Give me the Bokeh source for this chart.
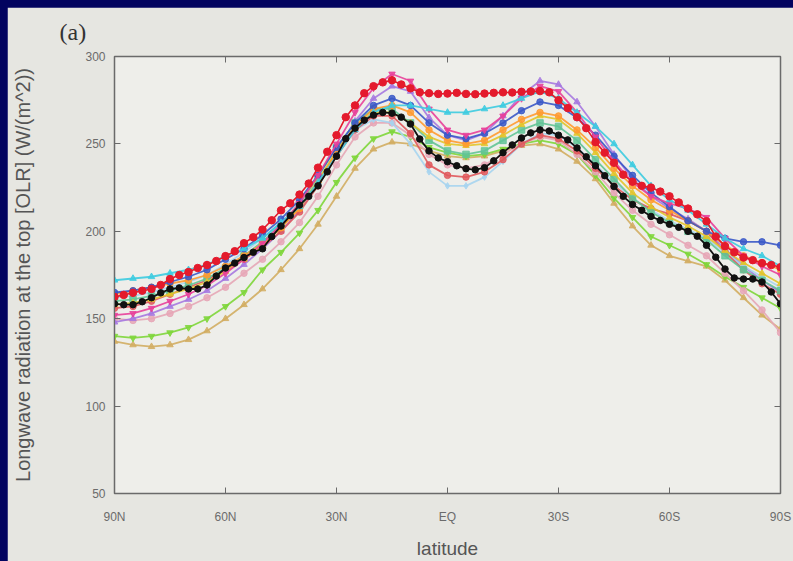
from bokeh.plotting import figure
from bokeh.models import Range1d, LinearAxis, FixedTicker
from bokeh.embed import file_html
from bokeh.resources import INLINE

# latitude grids (degrees, + = north)
LAT5 = [90, 85, 80, 75, 70, 65, 60, 55, 50, 45, 40, 35, 30, 25, 20, 15, 10, 5, 0,
        -5, -10, -15, -20, -25, -30, -35, -40, -45, -50, -55, -60, -65, -70, -75, -80, -85, -90]
LAT25 = [90, 87.5, 85, 82.5, 80, 77.5, 75, 72.5, 70, 67.5, 65, 62.5, 60, 57.5, 55, 52.5, 50,
         47.5, 45, 42.5, 40, 37.5, 35, 32.5, 30, 27.5, 25, 22.5, 20, 17.5, 15, 12.5, 10, 7.5,
         5, 2.5, 0, -2.5, -5, -7.5, -10, -12.5, -15, -17.5, -20, -22.5, -25, -27.5, -30, -32.5,
         -35, -37.5, -40, -42.5, -45, -47.5, -50, -52.5, -55, -57.5, -60, -62.5, -65, -67.5,
         -70, -72.5, -75, -77.5, -80, -82.5, -85, -87.5, -90]

x_ticks = [90, 60, 30, 0, -30, -60, -90]
x_tick_labels = ["90N", "60N", "30N", "EQ", "30S", "60S", "90S"]
y_ticks = [50, 100, 150, 200, 250, 300]

# observation-like reference (black) and highlighted model (red), 2.5 deg
black_olr = [158.5, 158, 158, 159.7, 162, 164.8, 167, 167.6, 167, 167, 169.3, 174.4, 179, 181.8,
             185, 188, 190, 197, 203, 209, 215, 220, 226, 234, 243, 253, 259, 263.6, 266.5, 268,
             267.6, 265.3, 261.4, 252.8, 246, 242, 239.8, 237.5, 235.8, 235.2, 236.4, 240.3, 245,
             249.4, 253.4, 256.3, 258, 257.4, 255, 252.3, 247.7, 242.6, 237.5, 231.8, 225.6, 220,
             215.3, 212, 208.5, 206.2, 204, 202.3, 200, 197.2, 192, 185.2, 178.4, 173.3, 172.7,
             172.7, 171, 165.3, 158.5]
red_olr = [162.5, 163.6, 164.8, 166, 167, 169.3, 172.7, 175, 176.7, 179, 180.7, 183, 185.8, 188.6,
           193.2, 196.6, 201, 206.3, 212, 216, 221, 227.3, 236.4, 245.5, 255, 265.3, 272, 279, 283,
           285.2, 286.4, 284, 281.8,
           279.5, 279, 278.6, 278.8, 279.2, 278.6, 278.4, 278.8, 279.2, 279.5, 279.4, 279.8, 280, 280.2,
           279.5, 275, 270.5, 265.3, 259, 251, 245, 239.2, 232.4, 228.4, 226, 225, 222.7, 220, 216.5,
           213, 209.7, 205.7, 197, 191.5, 188, 185, 183.5, 181.8, 180.7, 179.5]

# other models, 5 deg
cyan_olr = [172, 173, 174, 176, 178, 181, 186, 190, 196, 205, 214, 228, 243, 258, 268, 272, 272, 270,
            268, 268, 270, 272, 276, 280, 276, 268, 260, 250, 238, 226, 218, 212, 204, 196, 190, 186, 180]
lime_olr = [140, 139, 140, 142, 145, 150, 157, 165, 178, 188, 199, 212, 228, 242, 253, 257, 254, 248,
            245, 243, 244, 247, 250, 252, 250, 244, 232, 219, 208, 197, 192, 187, 181, 174, 168, 162, 156]
tan_olr = [137, 135, 134, 135, 138, 143, 150, 158, 167, 178, 190, 204, 220, 236, 247, 251, 250, 246,
           243, 242, 243, 246, 249, 250, 247, 240, 230, 216, 203, 192, 186, 183, 180, 172, 162, 152, 144]
orange_olr = [164, 166, 168, 170, 172, 175, 180, 186, 193, 202, 213, 228, 245, 260, 270, 272, 268, 258,
              252, 250, 252, 258, 264, 268, 266, 258, 248, 236, 226, 218, 212, 206, 200, 192, 186, 182, 178]
magenta_olr = [152, 153, 156, 160, 164, 169, 176, 184, 193, 204, 216, 232, 250, 268, 282, 290, 286, 270,
               258, 255, 258, 266, 276, 283, 280, 268, 254, 240, 228, 220, 216, 213, 208, 196, 186, 180, 175]
violet_olr = [148, 150, 153, 157, 161, 166, 173, 181, 190, 200, 212, 228, 246, 263, 276, 283, 280, 265,
              255, 252, 256, 266, 278, 286, 284, 274, 260, 244, 230, 220, 213, 207, 200, 190, 180, 172, 165]
blue_olr = [165, 166, 168, 171, 174, 178, 184, 190, 198, 207, 218, 232, 248, 262, 272, 276, 272, 262,
            255, 253, 256, 262, 269, 274, 272, 265, 255, 243, 232, 222, 214, 206, 200, 196, 194, 194, 192]
salmon_olr = [156, 157, 160, 164, 168, 172, 178, 184, 191, 200, 211, 226, 243, 258, 266, 266, 256, 238,
              232, 231, 234, 241, 250, 255, 253, 246, 236, 226, 218, 213, 210, 206, 200, 188, 178, 170, 164]
lightblue_olr = [162, 163, 165, 168, 171, 175, 181, 188, 196, 205, 215, 229, 245, 258, 264, 262, 250, 234,
                 226, 226, 231, 240, 250, 256, 255, 248, 238, 228, 219, 212, 206, 201, 196, 188, 180, 174, 168]
pink_olr = [150, 149, 150, 153, 157, 162, 168, 176, 184, 194, 205, 220, 238, 254, 262, 262, 255, 244,
            238, 236, 238, 244, 250, 254, 252, 244, 234, 222, 212, 204, 198, 192, 186, 176, 166, 155, 142]
teal_olr = [160, 161, 163, 166, 169, 173, 179, 186, 194, 204, 216, 231, 248, 262, 270, 270, 262, 252,
            246, 244, 246, 252, 258, 262, 260, 252, 241, 230, 219, 211, 205, 200, 195, 186, 178, 172, 166]
gold_olr = [158, 159, 161, 164, 167, 171, 177, 184, 192, 202, 214, 229, 246, 260, 268, 268, 262, 254,
            250, 249, 250, 255, 261, 266, 264, 256, 245, 233, 222, 214, 208, 203, 197, 189, 182, 176, 170]

models = [
    (tan_olr, "#d2ad62", "triangle"),
    (lime_olr, "#7ed63a", "inverted_triangle"),
    (pink_olr, "#e6a6b6", "circle"),
    (violet_olr, "#a678e0", "triangle"),
    (lightblue_olr, "#a6d4f0", "diamond"),
    (salmon_olr, "#e0585c", "circle"),
    (teal_olr, "#62c496", "square"),
    (gold_olr, "#e2c42a", "triangle"),
    (orange_olr, "#ff9a30", "circle"),
    (blue_olr, "#3a58c8", "circle"),
    (magenta_olr, "#e8409a", "inverted_triangle"),
    (cyan_olr, "#3ccbe0", "triangle"),
]

p = figure(width=786, height=554, output_backend="svg", toolbar_location=None,
           x_range=Range1d(90, -90), y_range=Range1d(50, 300),
           min_border_left=107, min_border_right=13, min_border_top=49, min_border_bottom=65,
           background_fill_color="#eeeeea", border_fill_color="#e6e6e1",
           outline_line_color="#6a6a6a", outline_line_width=1.5)
p.grid.visible = False

for vals, col, mk in models:
    p.line(LAT5, vals, line_color=col, line_width=1.8, line_alpha=0.9)
    p.scatter(LAT5, vals, marker=mk, size=6.5, fill_color=col, line_color=col, alpha=0.85)

p.line(LAT25, red_olr, line_color="#e41a2c", line_width=1.6)
p.scatter(LAT25, red_olr, marker="circle", size=7.5, fill_color="#e41a2c", line_color="#e41a2c")
p.line(LAT25, black_olr, line_color="#111111", line_width=1.8)
p.scatter(LAT25, black_olr, marker="circle", size=6.5, fill_color="#111111", line_color="#111111")

font = "Liberation Sans"
xa = p.xaxis[0]
xa.ticker = FixedTicker(ticks=x_ticks)
xa.major_label_overrides = {t: s for t, s in zip(x_ticks, x_tick_labels)}
xa.axis_label = "latitude"
xa.axis_label_standoff = 11
xa.major_label_standoff = 16
ya = p.yaxis[0]
ya.ticker = FixedTicker(ticks=y_ticks)
ya.axis_label = "Longwave radiation at the top [OLR] (W/(m^2))"
ya.axis_label_standoff = 48
ya.major_label_standoff = 9
for ax in (xa, ya):
    ax.major_tick_in = 6
    ax.major_tick_out = 0
    ax.minor_tick_line_color = None
    ax.axis_line_color = "#6a6a6a"
    ax.major_tick_line_color = "#6a6a6a"
    ax.major_label_text_font = font
    ax.major_label_text_font_size = "12px"
    ax.major_label_text_color = "#6b6b6b"
    ax.axis_label_text_font = font
    ax.axis_label_text_font_style = "normal"
    ax.axis_label_text_color = "#555555"
xa.axis_label_text_font_size = "19px"
ya.axis_label_text_font_size = "20px"

for side, tk in (("right", y_ticks), ("above", x_ticks)):
    ax = LinearAxis(ticker=FixedTicker(ticks=tk), major_tick_in=6, major_tick_out=0,
                    minor_tick_line_color=None, axis_line_color="#6a6a6a",
                    major_tick_line_color="#6a6a6a",
                    major_label_overrides={t: "" for t in tk},
                    major_label_standoff=0)
    p.add_layout(ax, side)

p.title.text = "(a)"
p.title.align = "left"
p.title.vertical_align = "top"
p.title.offset = -55
p.title.standoff = 20
p.title.text_font = "Liberation Serif"
p.title.text_font_size = "24px"
p.title.text_font_style = "normal"
p.title.text_color = "#333333"

html = file_html(p, INLINE)
style = ("<style>html, body { background: #02035f !important; } "
         "body { padding: 7px 0 0 7px !important; margin: 0 !important; }</style>")
html = html.replace("</head>", style + "</head>", 1)
open("out.html", "w").write(html)
